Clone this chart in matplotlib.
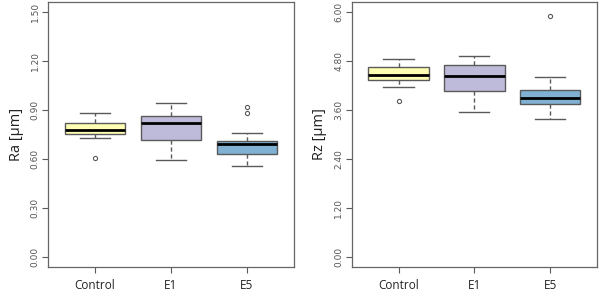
import matplotlib
matplotlib.use("Agg")
import matplotlib.pyplot as plt

categories = ["Control", "E1", "E5"]
colors = ["#FFFFB3", "#BEBADA", "#80B1D3"]

# Ra [µm]
ra_whislo = [0.726, 0.592, 0.559]
ra_q1 = [0.751, 0.716, 0.633]
ra_med = [0.780, 0.820, 0.690]
ra_q3 = [0.822, 0.863, 0.712]
ra_whishi = [0.879, 0.945, 0.759]
ra_fliers = [[0.608], [], [0.920, 0.879]]
ra_ticks = [0.00, 0.30, 0.60, 0.90, 1.20, 1.50]

# Rz [µm]
rz_whislo = [4.171, 3.559, 3.387]
rz_q1 = [4.335, 4.073, 3.747]
rz_med = [4.448, 4.433, 3.902]
rz_q3 = [4.653, 4.710, 4.081]
rz_whishi = [4.857, 4.923, 4.416]
rz_fliers = [[3.828], [], [5.902]]
rz_ticks = [0.00, 1.20, 2.40, 3.60, 4.80, 6.00]

plt.rcParams['font.family'] = ['Open Sans', 'DejaVu Sans']

fig = plt.figure(figsize=(6.0, 2.95), dpi=100)
ax1 = fig.add_axes([0.080, 0.095, 0.410, 0.898])
ax2 = fig.add_axes([0.586, 0.095, 0.409, 0.898])

edge = "#5a5a5a"

def draw(ax, lo, q1, med, q3, hi, fl, ticks, ylabel):
    stats = []
    for i in range(len(categories)):
        stats.append(dict(whislo=lo[i], q1=q1[i], med=med[i], q3=q3[i],
                          whishi=hi[i], fliers=fl[i], label=categories[i]))
    bp = ax.bxp(stats, positions=[1, 2, 3], widths=0.8, patch_artist=True,
                showfliers=True,
                boxprops=dict(edgecolor=edge, linewidth=1.0),
                medianprops=dict(color="black", linewidth=2.0),
                whiskerprops=dict(color=edge, linewidth=1.0, linestyle=(0, (3, 2))),
                capprops=dict(color=edge, linewidth=1.0),
                flierprops=dict(marker="o", markersize=3.0, markerfacecolor="white",
                                markeredgecolor=edge, markeredgewidth=0.8))
    for patch, c in zip(bp["boxes"], colors):
        patch.set_facecolor(c)
    for cap in bp["caps"]:
        x = cap.get_xdata()
        cx = (x[0] + x[1]) / 2
        cap.set_xdata([cx - 0.2, cx + 0.2])
    top = ticks[-1]
    pad = 0.04 * top
    ax.set_ylim(-pad, top + pad)
    ax.set_xlim(0.38, 3.62)
    ax.set_yticks(ticks)
    ax.set_yticklabels([f"{t:.2f}" for t in ticks], rotation=90, va="center",
                       fontsize=6.5, color="#555555", family="DejaVu Sans")
    ax.set_xticks([1, 2, 3])
    ax.set_xticklabels(categories, fontsize=8.5, color="#222222")
    ax.tick_params(axis="both", direction="out", length=4, color=edge, width=0.8)
    ax.tick_params(axis="y", pad=2)
    ax.tick_params(axis="x", pad=5)
    for s in ax.spines.values():
        s.set_color("#666666")
        s.set_linewidth(0.9)
    ax.set_ylabel(ylabel, fontsize=10.5, color="#222222", labelpad=5)

draw(ax1, ra_whislo, ra_q1, ra_med, ra_q3, ra_whishi, ra_fliers, ra_ticks, "Ra [µm]")
draw(ax2, rz_whislo, rz_q1, rz_med, rz_q3, rz_whishi, rz_fliers, rz_ticks, "Rz [µm]")

fig.savefig("out.png", dpi=100)
